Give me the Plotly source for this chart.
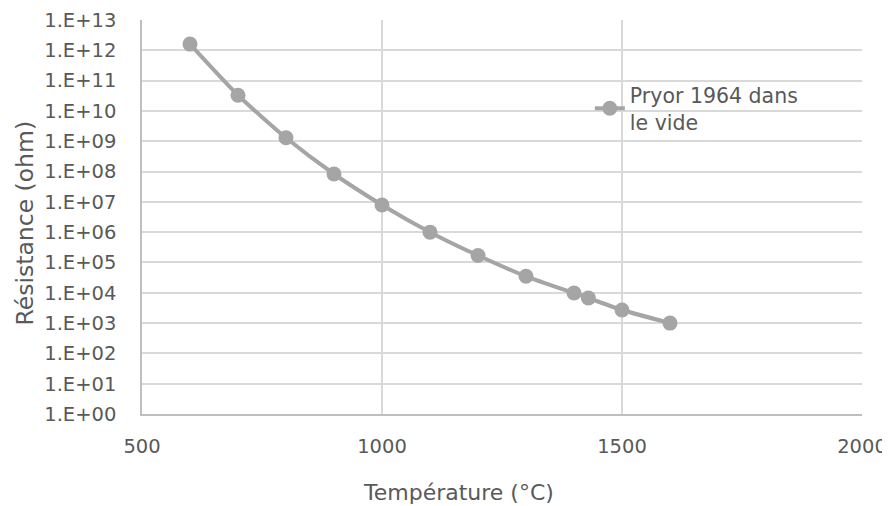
import plotly.graph_objects as go

# Pryor 1964, in vacuum
temperature = [600, 700, 800, 900, 1000, 1100, 1200, 1300, 1400, 1430, 1500, 1600]
resistance = [1.6e12, 3.3e10, 1.3e9, 8.3e7, 7.9e6, 1.0e6, 1.7e5, 3.5e4, 9.8e3, 6.7e3, 2.7e3, 1.0e3]

y_tickvals = [1e0, 1e1, 1e2, 1e3, 1e4, 1e5, 1e6, 1e7, 1e8, 1e9, 1e10, 1e11, 1e12, 1e13]
y_ticktext = ["1.E+00", "1.E+01", "1.E+02", "1.E+03", "1.E+04", "1.E+05", "1.E+06",
              "1.E+07", "1.E+08", "1.E+09", "1.E+10", "1.E+11", "1.E+12", "1.E+13"]
x_tickvals = [500, 1000, 1500, 2000]

grey = "#A5A5A5"
text_col = "#595959"
font = "DejaVu Sans, Open Sans, sans-serif"

fig = go.Figure()
fig.add_trace(go.Scatter(
    x=temperature, y=resistance,
    mode="lines+markers",
    name="Pryor 1964 dans<br>le vide",
    line=dict(color=grey, width=4, shape="spline", smoothing=0.6),
    marker=dict(color=grey, size=15),
))

# the page body shifts the figure by ~8px, so margins are offset to compensate
fig.update_layout(
    width=890, height=506,
    margin=dict(l=134, r=36, t=12, b=100),
    paper_bgcolor="white", plot_bgcolor="white",
    font=dict(family=font, size=19.5, color=text_col),
    showlegend=True,
    legend=dict(x=0.622, y=0.86, xanchor="left", yanchor="top",
                bgcolor="rgba(0,0,0,0)", font=dict(size=20.5, color=text_col)),
    annotations=[
        dict(text="Température (°C)", xref="paper", yref="paper", x=0.44, y=-0.2,
             xanchor="center", yanchor="middle", showarrow=False,
             font=dict(size=22, color=text_col)),
        dict(text="Résistance (ohm)", xref="paper", yref="paper", x=-0.163, y=0.485,
             xanchor="center", yanchor="middle", showarrow=False, textangle=-90,
             font=dict(size=23.5, color=text_col)),
    ],
)
fig.update_xaxes(
    range=[500, 2000], tickvals=x_tickvals, automargin=False,
    ticklabeloverflow="allow",
    showgrid=True, gridcolor="#D9D9D9", gridwidth=1.5,
    showline=True, linecolor="#BFBFBF", linewidth=1.5,
    zeroline=False, ticks="", ticklabelstandoff=14,
)
fig.update_yaxes(
    type="log", range=[0, 13], tickvals=y_tickvals, ticktext=y_ticktext, automargin=False,
    ticklabeloverflow="allow",
    showgrid=True, gridcolor="#D9D9D9", gridwidth=1.5,
    showline=True, linecolor="#BFBFBF", linewidth=1.5,
    zeroline=False, ticks="", ticklabelstandoff=20,
)

fig.write_html("out.html")
